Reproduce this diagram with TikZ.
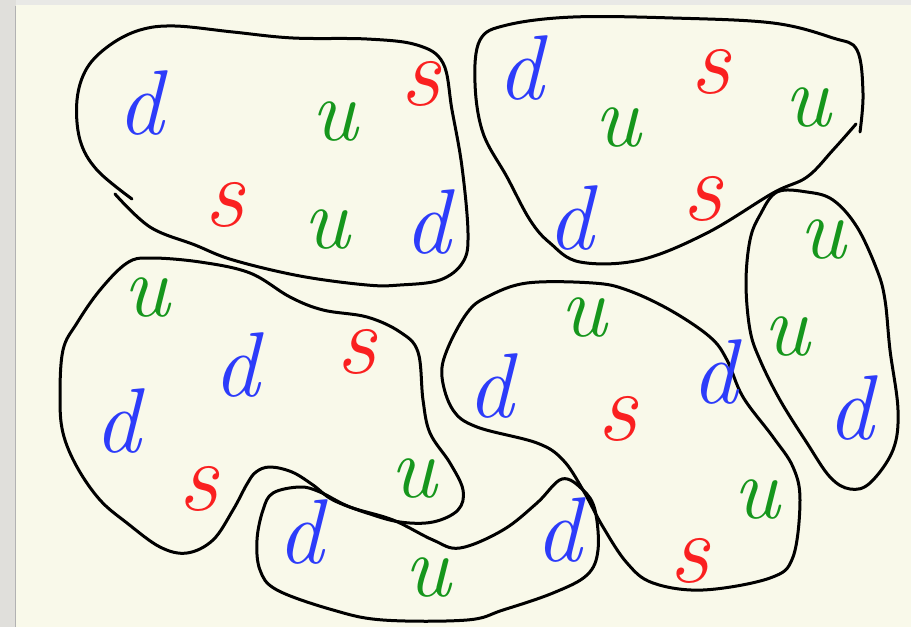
\documentclass[tikz,border=0pt]{standalone}
\usepackage{fontspec}
\usepackage{xcolor}
\usepackage{tikz}
\definecolor{paper}{RGB}{249,249,234}
\definecolor{shadegrey}{RGB}{224,223,219}
\definecolor{penblue}{RGB}{45,60,250}
\definecolor{pengreen}{RGB}{22,150,28}
\definecolor{penred}{RGB}{250,32,32}

\begin{document}
\begin{tikzpicture}[x=1pt, y=-1pt,
    blob/.style={draw=black, line width=3pt, line cap=round, line join=round},
    qd/.style={inner sep=0pt, text=penblue, font=\fontsize{92}{92}\selectfont\itshape},
    qu/.style={inner sep=0pt, text=pengreen, font=\fontsize{88}{88}\selectfont\itshape},
    qs/.style={inner sep=0pt, text=penred, font=\fontsize{100}{100}\selectfont\itshape}
  ]
    \useasboundingbox (0,0) rectangle (911,627);
    \fill[paper] (0,0) rectangle (911,627);
    % page edges
    \fill[shadegrey!70] (0,0) rectangle (911,5);
    \fill[shadegrey] (0,0) rectangle (16,627);
    \draw[black!30, line width=1.5pt] (15.5,6) -- (15.5,627);

    % top left bag
    \draw[blob] plot[smooth, tension=0.6] coordinates {(115,194) (150,227) (195,245) (233,260)
      (300,276) (367,285) (400,285) (440,280) (463,262) (468,233) (462,167) (452,110)
      (443,63) (417,45) (367,39) (293,38) (233,32) (175,26) (140,30) (110,45) (87,68)
      (77,100) (80,140) (97,170) (132,199)};
    % top right bag
    \draw[blob] plot[smooth, tension=0.6] coordinates {(856,124) (833,150) (807,177) (773,193)
      (707,233) (640,260) (580,262) (550,243) (530,220) (507,177) (483,133) (475,83)
      (480,40) (507,25) (573,17) (673,18) (773,23) (833,38) (857,50) (863,93) (860,132)};
    % left middle bag
    \draw[blob] plot[smooth cycle, tension=0.6] coordinates {(60,397) (63,350) (77,323) (100,290)
      (127,263) (150,258) (200,262) (250,273) (290,297) (323,310) (367,317) (400,332)
      (418,352) (423,400) (430,433) (450,463) (463,490) (458,510) (433,522) (400,522)
      (367,513) (333,500) (313,485) (292,472) (270,467) (256,472) (247,484) (233,510)
      (213,540) (187,553) (160,547) (127,523) (100,500) (77,467) (63,433)};
    % bottom bag
    \draw[blob] plot[smooth cycle, tension=0.6] coordinates {(300,487) (320,492) (350,507)
      (393,520) (433,540) (460,548) (503,530) (537,503) (562,479) (583,490) (595,510)
      (598,550) (587,575) (553,593) (503,610) (467,620) (383,620) (333,610) (277,590)
      (260,570) (257,540) (263,510) (273,493)};
    % right middle bag
    \draw[blob] plot[smooth cycle, tension=0.6] coordinates {(447,350) (467,313) (487,297)
      (527,283) (593,283) (627,290) (670,310) (710,337) (727,360) (743,397) (773,437)
      (793,467) (800,500) (793,557) (770,578) (703,590) (653,583) (627,563) (603,527)
      (583,490) (563,460) (537,443) (477,427) (453,410) (442,377)};
    % far right bag
    \draw[blob] plot[smooth cycle, tension=0.6] coordinates {(777,192) (807,192) (833,200)
      (857,227) (877,270) (885,300) (890,350) (898,410) (893,450) (870,483) (850,489)
      (830,477) (807,443) (780,400) (760,360) (750,330) (746,283) (750,240) (760,215)};

    % quarks
    \node[qd] (d1) at (140,103) {d};
    \node[qu] (u1) at (335,122) {u};
    \node[qs] (s1) at (420,84) {s};
    \node[qs] (s2) at (224,205) {s};
    \node[qu] (u2) at (327,230) {u};
    \node[qd] (d2) at (427,222) {d};

    \node[qd] (d3) at (520,68) {d};
    \node[qs] (s3) at (710,72) {s};
    \node[qu] (u3) at (618,128) {u};
    \node[qu] (u4) at (808,108) {u};
    \node[qd] (d4) at (570,218) {d};
    \node[qs] (s4) at (702,199) {s};

    \node[qu] (u5) at (147,298) {u};
    \node[qd] (d5) at (236,365) {d};
    \node[qs] (s5) at (356,352) {s};
    \node[qd] (d6) at (117,421) {d};
    \node[qs] (s6) at (198,489) {s};
    \node[qu] (u6) at (414,479) {u};

    \node[qd] (d7) at (300,532) {d};
    \node[qu] (u7) at (428,578) {u};
    \node[qd] (d8) at (558,530) {d};

    \node[qu] (u8) at (584,318) {u};
    \node[qd] (d9) at (490,386) {d};
    \node[qs] (s7) at (617,419) {s};
    \node[qd] (d10) at (714,372) {d};
    \node[qu] (u9) at (757,500) {u};
    \node[qs] (s8) at (689,561) {s};

    \node[qu] (u10) at (823,240) {u};
    \node[qu] (u11) at (787,337) {u};
    \node[qd] (d11) at (850,408) {d};
\end{tikzpicture}
\end{document}
